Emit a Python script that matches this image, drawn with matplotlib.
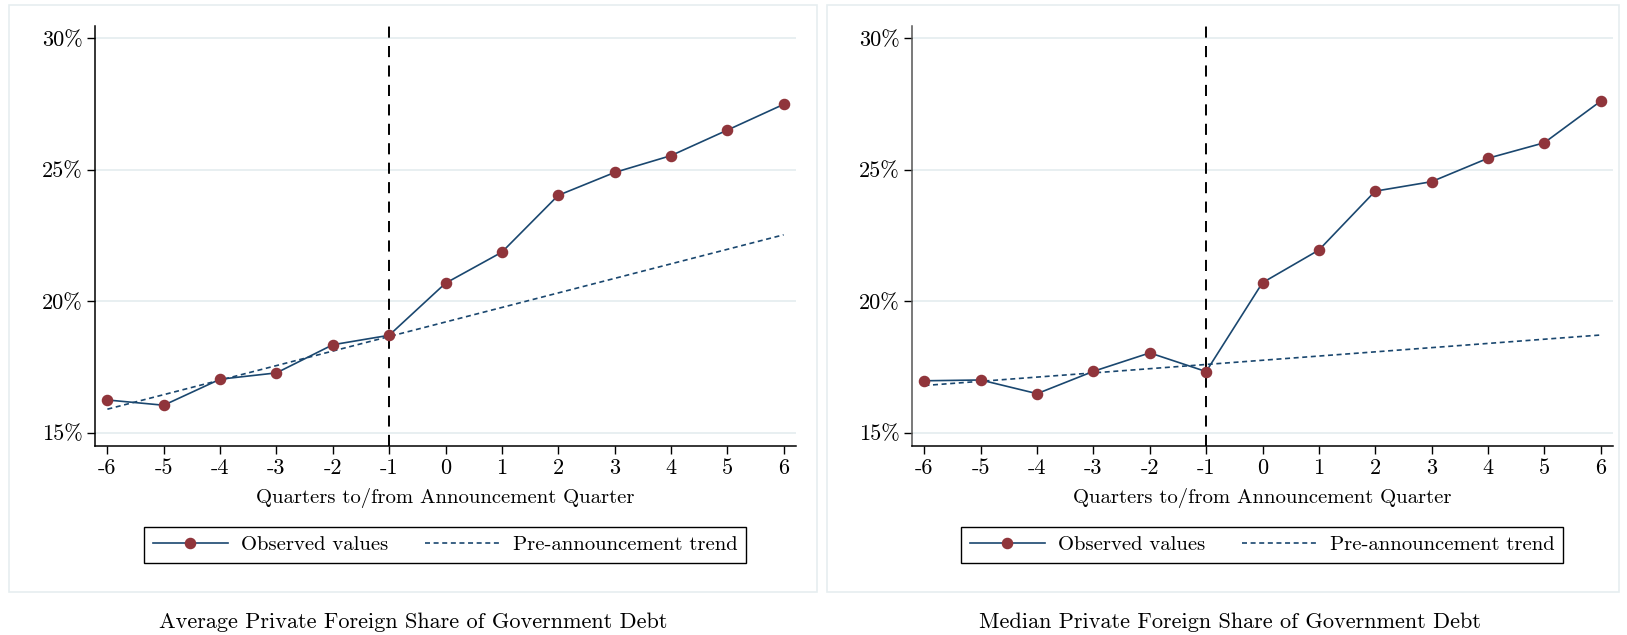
import matplotlib
matplotlib.use("Agg")
import matplotlib.pyplot as plt
from matplotlib.patches import Rectangle
from matplotlib.lines import Line2D

plt.rcParams['font.family'] = ['cmr10', 'DejaVu Serif']
plt.rcParams['axes.unicode_minus'] = False
plt.rcParams['lines.scale_dashes'] = False
plt.rcParams['axes.formatter.use_mathtext'] = True

# ---- data ----
quarters = [-6, -5, -4, -3, -2, -1, 0, 1, 2, 3, 4, 5, 6]
avg_observed = [16.25, 16.05, 17.04, 17.28, 18.35, 18.71, 20.69, 21.87, 24.03, 24.90, 25.54, 26.51, 27.49]
avg_trend_ends = [15.90, 22.53]          # trend at quarter -6 and +6
med_observed = [16.98, 17.01, 16.49, 17.34, 18.04, 17.33, 20.71, 21.95, 24.19, 24.55, 25.44, 26.03, 27.61]
med_trend_ends = [16.80, 18.72]
trend_quarters = [-6, 6]
ytick_vals = [15, 20, 25, 30]
ytick_labels = ['15%', '20%', '25%', '30%']
xtick_labels = [str(q) for q in quarters]
panel_titles = ['Average Private Foreign Share of Government Debt',
                'Median Private Foreign Share of Government Debt']
xlabel = 'Quarters to/from Announcement Quarter'
legend_labels = ['Observed values', 'Pre-announcement trend']
announce_q = -1

W, H = 1627, 635
fig = plt.figure(figsize=(W / 100, H / 100), dpi=100)
fig.patch.set_facecolor('white')

NAVY = '#1a476f'
MAROON = '#90353b'
GRIDC = '#e6eef0'
FS_TICK = 16.0
FS_LAB = 14.9
FS_LEG = 14.9
FS_TITLE = 16.0

def fx(px):
    return px / W

def fy(py):
    return 1 - py / H

# outer panel boxes
for (x0, x1) in [(9, 817), (827, 1619)]:
    fig.patches.append(Rectangle((fx(x0), fy(592)), fx(x1 - x0), (592 - 5) / H,
                                 transform=fig.transFigure, fill=False,
                                 edgecolor=GRIDC, linewidth=1.2, zorder=0))

panels = [
    (95, avg_observed, avg_trend_ends, panel_titles[0], 'black', 413),
    (912, med_observed, med_trend_ends, panel_titles[1], '#555555', 1230),
]

for (axl, obs, trend, title, spinec, tcx) in panels:
    ax = fig.add_axes([fx(axl), fy(446), fx(701), 420 / H])
    ax.set_xlim(-6.22, 6.22)
    ax.set_ylim(14.5, 30.47)
    for s in ['top', 'right']:
        ax.spines[s].set_visible(False)
    ax.spines['left'].set_color(spinec)
    ax.spines['bottom'].set_color('black')
    ax.spines['left'].set_linewidth(1.1)
    ax.spines['bottom'].set_linewidth(1.1)
    ax.set_yticks(ytick_vals)
    ax.set_yticklabels(ytick_labels)
    ax.set_xticks(quarters)
    ax.set_xticklabels(xtick_labels)
    ax.tick_params(axis='both', direction='out', length=6, width=1.0,
                   labelsize=FS_TICK, pad=3)
    ax.grid(axis='y', color=GRIDC, linewidth=1.3, zorder=0)
    ax.set_axisbelow(True)

    ax.axvline(announce_q, color='black', linewidth=1.4, dashes=(8, 6), zorder=2)
    ax.plot(trend_quarters, trend, color=NAVY, linewidth=1.2, dashes=(3.6, 2.6), zorder=3)
    ax.plot(quarters, obs, color=NAVY, linewidth=1.2, marker='o', markersize=7.3,
            markerfacecolor=MAROON, markeredgecolor=MAROON, zorder=4)

    ax.set_xlabel(xlabel, fontsize=FS_LAB, labelpad=7)

    h1 = Line2D([], [], color=NAVY, linewidth=1.2, marker='o', markersize=7.3,
                markerfacecolor=MAROON, markeredgecolor=MAROON)
    h2 = Line2D([], [], color=NAVY, linewidth=1.2, dashes=(3.6, 2.6))
    leg = fig.legend([h1, h2], legend_labels, ncol=2, loc='center',
                     bbox_to_anchor=(fx(axl + 350), fy(545)),
                     bbox_transform=fig.transFigure,
                     fontsize=FS_LEG, frameon=True, fancybox=False, shadow=False,
                     framealpha=1, edgecolor='black', borderpad=0.42,
                     handlelength=3.62, handletextpad=0.63, columnspacing=1.79,
                     numpoints=1)
    leg.get_frame().set_linewidth(1.0)

    fig.text(fx(tcx), fy(622), title, ha='center', va='center', fontsize=FS_TITLE)

fig.savefig('out.png', dpi=100, facecolor='white')
